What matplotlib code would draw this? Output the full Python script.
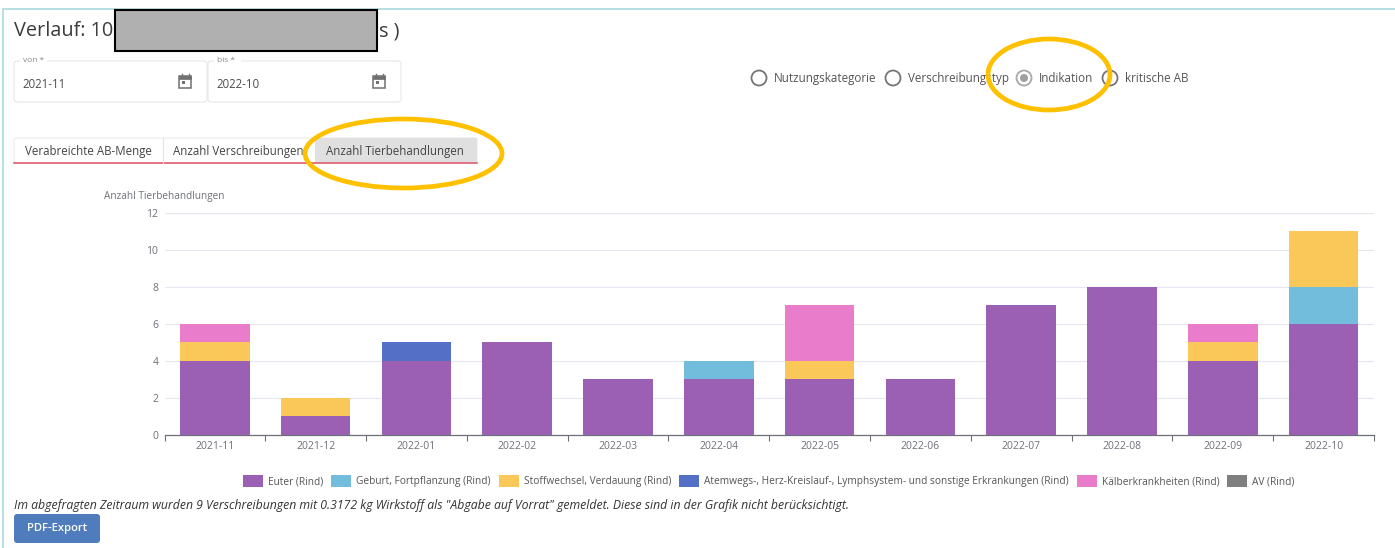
import numpy as np
import matplotlib
matplotlib.use('Agg')
import matplotlib.pyplot as plt
from matplotlib.patches import Ellipse, FancyBboxPatch, Rectangle, Circle

plt.rcParams['font.family'] = ['Open Sans', 'DejaVu Sans']

W, H = 1395, 548

months = ["2021-11", "2021-12", "2022-01", "2022-02", "2022-03", "2022-04",
          "2022-05", "2022-06", "2022-07", "2022-08", "2022-09", "2022-10"]
euter = [4, 1, 4, 5, 3, 3, 3, 3, 7, 8, 4, 6]
geburt = [0, 0, 0, 0, 0, 1, 0, 0, 0, 0, 0, 2]
stoffwechsel = [1, 1, 0, 0, 0, 0, 1, 0, 0, 0, 1, 3]
atemwege = [0, 0, 1, 0, 0, 0, 0, 0, 0, 0, 0, 0]
kaelber = [1, 0, 0, 0, 0, 0, 3, 0, 0, 0, 1, 0]
av = [0, 0, 0, 0, 0, 0, 0, 0, 0, 0, 0, 0]

series_names = ["Euter (Rind)", "Geburt, Fortpflanzung (Rind)", "Stoffwechsel, Verdauung (Rind)",
                "Atemwegs-, Herz-Kreislauf-, Lymphsystem- und sonstige Erkrankungen (Rind)",
                "Kälberkrankheiten (Rind)", "AV (Rind)"]
series_values = [euter, geburt, stoffwechsel, atemwege, kaelber, av]
series_colors = ["#9b5fb3", "#72bcdc", "#fac858", "#5470c6", "#ea7ccc", "#7f7f7f"]

yticks = [0, 2, 4, 6, 8, 10, 12]
tabs = ["Verabreichte AB-Menge", "Anzahl Verschreibungen", "Anzahl Tierbehandlungen"]
radio_labels = ["Nutzungskategorie", "Verschreibungstyp", "Indikation", "kritische AB"]

TEXT = "#4d4d4d"
AXIS = "#6e7079"
RING = "#ffc000"

fig = plt.figure(figsize=(W / 100, H / 100), dpi=100, facecolor="white")

# chart area, placed to the pixel
ax = fig.add_axes([164.5 / W, 1 - 434.6 / H, (1374 - 164.5) / W, (434.6 - 212.6) / H])
x = np.arange(len(months))
bottom = np.zeros(len(months))
for name, vals, col in zip(series_names, series_values, series_colors):
    vals = np.array(vals)
    ax.bar(x, vals, width=0.69, bottom=bottom, color=col, label=name, zorder=3)
    bottom += vals

ax.set_xlim(-0.5, len(months) - 0.5)
ax.set_ylim(0, 12)
ax.set_yticks(yticks)
ax.set_xticks(x)
ax.set_xticklabels(months)
ax.set_xticks(np.arange(len(months) + 1) - 0.5, minor=True)
ax.tick_params(axis="x", which="major", length=0, labelsize=7.5, labelcolor=AXIS, pad=4.5)
ax.tick_params(axis="x", which="minor", length=4, color=AXIS, width=0.8)
ax.tick_params(axis="y", length=0, labelsize=7.5, labelcolor=AXIS, pad=4.5)
ax.grid(axis="y", color="#e4e6f1", lw=0.8, zorder=0)
for side in ["top", "right", "left"]:
    ax.spines[side].set_visible(False)
ax.spines["bottom"].set_color(AXIS)
ax.spines["bottom"].set_linewidth(0.9)

fig.legend(loc="center", bbox_to_anchor=(769 / W, 1 - 481 / H), ncol=6, frameon=False,
           fontsize=7.3, labelcolor="#555555", handlelength=1.97, handleheight=1.4,
           handletextpad=0.5, columnspacing=0.78, borderpad=0, borderaxespad=0)

# page furniture on an overlay in pixel coordinates
ui = fig.add_axes([0, 0, 1, 1], zorder=5)
ui.set_xlim(0, W)
ui.set_ylim(H, 0)
ui.axis("off")
ui.patch.set_alpha(0)

ui.plot([3, 3, W], [H, 9, 9], color="#b5dfe3", lw=1.4)

ui.text(14, 31, "Verlauf: 10", fontsize=14.3, color="#3c3c3c", va="center", zorder=2)
ui.text(399, 31, "as )", fontsize=14.3, color="#3c3c3c", va="center", ha="right", zorder=2)
ui.add_patch(Rectangle((115, 10), 262, 41, fc="#b0b0b0", ec="black", lw=1.5, zorder=4))


def date_field(x0, x1, label, value):
    ui.add_patch(FancyBboxPatch((x0, 61), x1 - x0, 41, boxstyle="round,pad=0,rounding_size=3",
                                fc="white", ec="#e6e6e6", lw=0.8))
    ui.add_patch(Rectangle((x0 + 6, 57), 27, 8, fc="white", ec="none", zorder=2))
    ui.text(x0 + 9, 61, label, fontsize=6, color="#888888", va="center", zorder=3)
    ui.text(x0 + 8.5, 84, value, fontsize=8.3, color=TEXT, va="center")
    # calendar icon
    cx = x1 - 22
    ui.add_patch(Rectangle((cx - 6, 76), 12, 12, fc="white", ec="#707070", lw=1.1))
    ui.add_patch(Rectangle((cx - 6, 76), 12, 3, fc="#707070", ec="#707070", lw=0.5))
    ui.plot([cx - 3.5, cx - 3.5], [74, 77], color="#707070", lw=1.0)
    ui.plot([cx + 3.5, cx + 3.5], [74, 77], color="#707070", lw=1.0)
    ui.add_patch(Rectangle((cx - 3, 81), 2.5, 2.5, fc="#707070", ec="none"))


date_field(14, 207, "von *", "2021-11")
date_field(208, 401, "bis *", "2022-10")

radio_x = [759, 893, 1024, 1110]
for i, (rx, lab) in enumerate(zip(radio_x, radio_labels)):
    active = lab == "Indikation"
    ui.add_patch(Circle((rx, 78), 7.5, fc="white", ec="#a8a8a8" if active else "#757575", lw=1.3))
    if active:
        ui.add_patch(Circle((rx, 78), 4, fc="#a0a0a0", ec="none"))
    ui.text(rx + 15, 78.5, lab, fontsize=8.4, color="#555555", va="center")

# tab bar
tab_edges = [14, 163, 314, 477]
ui.add_patch(FancyBboxPatch((14, 138), 463, 25, boxstyle="round,pad=0,rounding_size=2",
                            fc="white", ec="#ececec", lw=0.8))
ui.add_patch(Rectangle((315, 138), 162, 25, fc="#e0e0e0", ec="none"))
ui.plot([14, 477], [163, 163], color="#e0606e", lw=1.2)
ui.plot([163, 163], [138, 163], color="#e2e2e2", lw=0.8)
for i, lab in enumerate(tabs):
    ui.text((tab_edges[i] + tab_edges[i + 1]) / 2 - 0.5, 151, lab, fontsize=8.3, color="#444444",
            ha="center", va="center")

ui.text(104, 196, "Anzahl Tierbehandlungen", fontsize=7.2, color=AXIS, va="center")

# the two hand drawn rings
ui.add_patch(Ellipse((403.5, 153.5), 197, 69, fc="none", ec=RING, lw=3.4, zorder=4))
ui.add_patch(Ellipse((1049, 74.5), 122, 71, fc="none", ec=RING, lw=3.4, zorder=4))

ui.text(14, 505, "Im abgefragten Zeitraum wurden 9 Verschreibungen mit 0.3172 kg Wirkstoff als "
        "\"Abgabe auf Vorrat\" gemeldet. Diese sind in der Grafik nicht berücksichtigt.",
        fontsize=8.87, style="italic", color="#333333", va="center")

ui.add_patch(FancyBboxPatch((14, 514), 86, 29, boxstyle="round,pad=0,rounding_size=3",
                            fc="#4f7cbd", ec="none"))
ui.text(57, 528.5, "PDF-Export", fontsize=8.1, fontweight="semibold", color="white",
        ha="center", va="center")

fig.savefig("out.png", dpi=100)
plt.close(fig)
